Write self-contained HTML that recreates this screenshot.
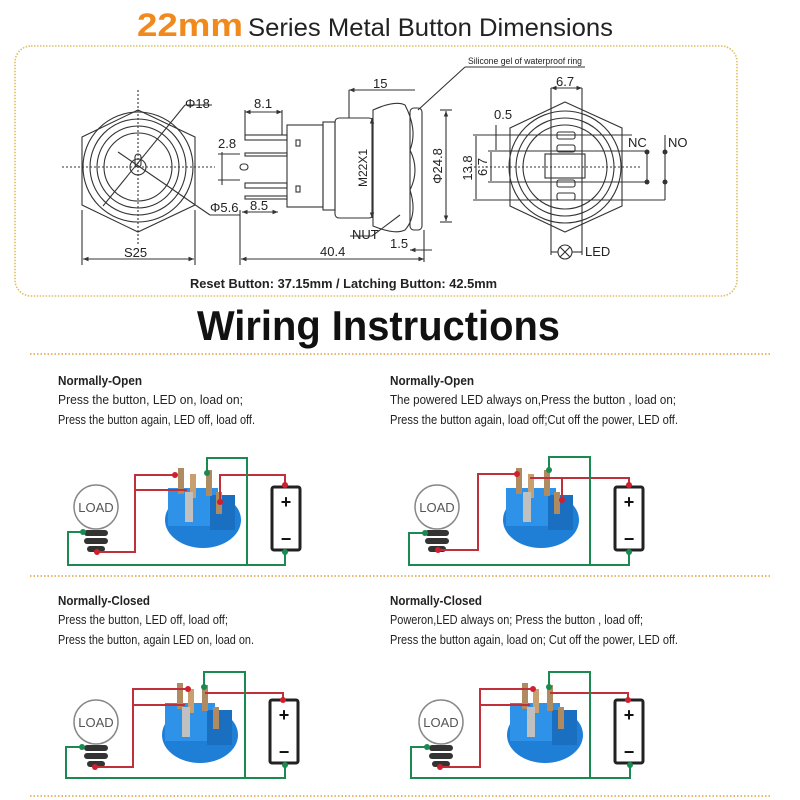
<!DOCTYPE html>
<html><head><meta charset="utf-8"><style>
html,body{margin:0;padding:0;background:#fff;width:800px;height:800px;overflow:hidden}
svg{display:block}
text{font-family:"Liberation Sans",sans-serif}
</style></head><body>
<svg width="800" height="800" viewBox="0 0 800 800" xmlns="http://www.w3.org/2000/svg">
<defs>
<marker id="ar" markerWidth="6" markerHeight="6" refX="5" refY="3" orient="auto-start-reverse"><path d="M0,1 L5,3 L0,5" fill="#333"/></marker>
</defs>
<!-- title -->
<text x="137" y="36" font-size="32" font-weight="bold" fill="#f08a1c" textLength="106" lengthAdjust="spacingAndGlyphs">22mm</text>
<text x="248" y="36" font-size="25" fill="#222" textLength="365" lengthAdjust="spacingAndGlyphs">Series Metal Button Dimensions</text>
<rect x="15" y="46" width="722" height="250" rx="16" fill="none" stroke="#dcc060" stroke-width="1.6" stroke-dasharray="1.5,1.5"/>

<g stroke="#333" fill="none" stroke-width="1.1">
<!-- left hex view -->
<polygon points="138,110 195,137 195,205 138,232 82,205 82,137"/>
<circle cx="138" cy="167" r="55"/><circle cx="138" cy="167" r="48"/><circle cx="138" cy="167" r="41"/><circle cx="138" cy="167" r="34"/>
<circle cx="138" cy="167" r="8"/><rect x="135" y="154" width="6" height="13" rx="3"/>
<line x1="62" y1="167" x2="215" y2="167" stroke-dasharray="2,2"/><line x1="138" y1="90" x2="138" y2="245" stroke-dasharray="2,2"/>
<line x1="103" y1="206" x2="185" y2="105"/><line x1="185" y1="105" x2="212" y2="105"/>
<line x1="118" y1="152" x2="210" y2="215"/><line x1="210" y1="215" x2="240" y2="215"/>
<line x1="82" y1="210" x2="82" y2="265"/><line x1="195" y1="210" x2="195" y2="265"/>
<line x1="83" y1="259" x2="194" y2="259" marker-start="url(#ar)" marker-end="url(#ar)"/>
<!-- side view -->
<line x1="245" y1="112" x2="282" y2="112" marker-start="url(#ar)" marker-end="url(#ar)"/>
<line x1="245" y1="110" x2="245" y2="135"/><line x1="282" y1="110" x2="282" y2="135"/>
<rect x="245" y="135" width="42" height="5"/><rect x="245" y="153" width="42" height="3"/>
<rect x="245" y="183" width="42" height="5"/><rect x="245" y="196" width="42" height="3"/>
<rect x="240" y="164" width="8" height="6" rx="3"/>
<line x1="222" y1="152" x2="222" y2="185"/><line x1="218" y1="154" x2="240" y2="154"/><line x1="218" y1="180" x2="240" y2="180"/>
<rect x="287" y="125" width="36" height="82"/><rect x="323" y="122" width="12" height="88"/>
<rect x="296" y="140" width="4" height="6"/><rect x="296" y="186" width="4" height="6"/>
<rect x="335" y="118" width="38" height="100" rx="4"/>
<path d="M373,110 Q395,100 405,105 Q418,130 410,150 Q420,170 410,190 Q418,215 405,230 Q395,235 373,226 Z"/>
<rect x="410" y="108" width="12" height="122" rx="4"/>
<line x1="349" y1="90" x2="349" y2="118"/><line x1="349" y1="90" x2="415" y2="90" marker-start="url(#ar)"/>
<line x1="440" y1="110" x2="452" y2="110"/><line x1="440" y1="222" x2="452" y2="222"/>
<line x1="446" y1="111" x2="446" y2="221" marker-start="url(#ar)" marker-end="url(#ar)"/>
<line x1="372" y1="118" x2="372" y2="218" marker-start="url(#ar)" marker-end="url(#ar)"/>
<line x1="240" y1="210" x2="240" y2="265"/><line x1="241" y1="259" x2="424" y2="259" marker-start="url(#ar)" marker-end="url(#ar)"/>
<line x1="424" y1="230" x2="424" y2="262"/><line x1="242" y1="212" x2="278" y2="212" marker-start="url(#ar)" marker-end="url(#ar)"/>
<line x1="350" y1="236" x2="372" y2="236"/><line x1="372" y1="236" x2="400" y2="215"/>
<line x1="410" y1="250" x2="432" y2="250" marker-start="url(#ar)"/>
<line x1="418" y1="110" x2="465" y2="67"/><line x1="465" y1="67" x2="585" y2="67"/>
<!-- right view -->
<polygon points="565,102 622,128 622,206 565,232 510,206 510,128"/>
<circle cx="565" cy="167" r="56"/><circle cx="565" cy="167" r="49"/><circle cx="565" cy="167" r="42"/>
<line x1="551" y1="88" x2="551" y2="255"/><line x1="582" y1="88" x2="582" y2="255"/>
<line x1="551" y1="88" x2="582" y2="88" marker-start="url(#ar)" marker-end="url(#ar)"/>
<rect x="557" y="132" width="18" height="7" rx="2"/><rect x="557" y="145" width="18" height="7" rx="2"/>
<rect x="557" y="180" width="18" height="7" rx="2"/><rect x="557" y="193" width="18" height="7" rx="2"/>
<rect x="545" y="154" width="40" height="24"/>
<line x1="473" y1="135" x2="632" y2="135"/><line x1="473" y1="200" x2="665" y2="200"/>
<line x1="488" y1="151" x2="647" y2="151"/><line x1="488" y1="182" x2="647" y2="182"/>
<line x1="476" y1="136" x2="476" y2="199"/><line x1="491" y1="152" x2="491" y2="181"/>
<line x1="496" y1="125" x2="496" y2="150"/>
<line x1="647" y1="151" x2="647" y2="182"/><line x1="665" y1="135" x2="665" y2="200"/>
<line x1="470" y1="167" x2="640" y2="167" stroke-dasharray="2,2"/>
<line x1="551" y1="252" x2="558" y2="252"/><line x1="572" y1="252" x2="582" y2="252"/>
<circle cx="565" cy="252" r="7"/><line x1="560" y1="247" x2="570" y2="257"/><line x1="570" y1="247" x2="560" y2="257"/>
</g>
<g fill="#333">
<circle cx="647" cy="152" r="2.5"/><circle cx="665" cy="152" r="2.5"/><circle cx="647" cy="182" r="2.5"/><circle cx="665" cy="182" r="2.5"/>
</g>
<g font-size="13" fill="#222">
<text x="185" y="108">Φ18</text><text x="210" y="212">Φ5.6</text><text x="124" y="257">S25</text>
<text x="254" y="108">8.1</text><text x="218" y="148">2.8</text><text x="250" y="210">8.5</text>
<text x="373" y="88">15</text><text x="352" y="239">NUT</text><text x="390" y="248">1.5</text>
<text x="320" y="256">40.4</text><text x="556" y="86">6.7</text><text x="494" y="119">0.5</text>
<text x="628" y="147">NC</text><text x="668" y="147">NO</text><text x="585" y="256">LED</text>
<text transform="translate(367,168) rotate(-90)" font-size="12" text-anchor="middle">M22X1</text>
<text transform="translate(442,166) rotate(-90)" text-anchor="middle">Φ24.8</text>
<text transform="translate(472,168) rotate(-90)" text-anchor="middle">13.8</text>
<text transform="translate(487,167) rotate(-90)" text-anchor="middle">6.7</text>
<text x="468" y="64" font-size="9" textLength="114" lengthAdjust="spacingAndGlyphs">Silicone gel of waterproof ring</text>
<text x="190" y="288" font-size="13" font-weight="bold" textLength="307" lengthAdjust="spacingAndGlyphs">Reset Button: 37.15mm / Latching Button: 42.5mm</text>
</g>

<text x="197" y="340" font-size="42" font-weight="bold" fill="#111" textLength="363" lengthAdjust="spacingAndGlyphs">Wiring Instructions</text>
<g stroke="#e0a040" stroke-width="1.5" stroke-dasharray="1.5,2">
<line x1="30" y1="354" x2="770" y2="354"/><line x1="30" y1="576" x2="770" y2="576"/><line x1="30" y1="796" x2="770" y2="796"/>
</g>

<g fill="#222" font-size="12.5">
<text x="58" y="385" font-weight="bold" textLength="84" lengthAdjust="spacingAndGlyphs">Normally-Open</text>
<text x="58" y="404" textLength="185" lengthAdjust="spacingAndGlyphs">Press the button, LED on, load on;</text>
<text x="58" y="424" textLength="197" lengthAdjust="spacingAndGlyphs">Press the button again, LED off, load off.</text>
<text x="390" y="385" font-weight="bold" textLength="84" lengthAdjust="spacingAndGlyphs">Normally-Open</text>
<text x="390" y="404" textLength="286" lengthAdjust="spacingAndGlyphs">The powered LED always on,Press the button , load on;</text>
<text x="390" y="424" textLength="288" lengthAdjust="spacingAndGlyphs">Press the button again, load  off;Cut off the power, LED off.</text>
<text x="58" y="605" font-weight="bold" textLength="92" lengthAdjust="spacingAndGlyphs">Normally-Closed</text>
<text x="58" y="624" textLength="170" lengthAdjust="spacingAndGlyphs">Press the button, LED off, load off;</text>
<text x="58" y="644" textLength="196" lengthAdjust="spacingAndGlyphs">Press the button,  again LED on, load on.</text>
<text x="390" y="605" font-weight="bold" textLength="92" lengthAdjust="spacingAndGlyphs">Normally-Closed</text>
<text x="390" y="624" textLength="253" lengthAdjust="spacingAndGlyphs">Poweron,LED always on; Press the button , load off;</text>
<text x="390" y="644" textLength="288" lengthAdjust="spacingAndGlyphs">Press the button again,  load on; Cut off the power, LED off.</text>
</g>

<!-- component sets -->
<g>
<circle cx="96" cy="507" r="22" fill="#fff" stroke="#888" stroke-width="1.5"/>
<text x="96" y="512" font-size="13" fill="#555" text-anchor="middle">LOAD</text>
<rect x="84" y="530" width="24" height="6" rx="3" fill="#333"/><rect x="84" y="538" width="24" height="6" rx="3" fill="#333"/><rect x="87" y="546" width="18" height="6" rx="3" fill="#333"/>
<ellipse cx="203" cy="520" rx="38" ry="28" fill="#1f7fd6"/>
<rect x="168" y="488" width="50" height="38" fill="#2e92e8"/>
<rect x="210" y="495" width="25" height="35" fill="#1a6fc0"/>
<rect x="178" y="468" width="6" height="26" fill="#b08a60"/><rect x="190" y="474" width="6" height="24" fill="#c8a070"/>
<rect x="185" y="492" width="8" height="30" fill="#c0c0c0"/>
<rect x="206" y="470" width="6" height="26" fill="#b08a60"/><rect x="216" y="492" width="6" height="22" fill="#b08a60"/>
<rect x="272" y="487" width="28" height="63" rx="2" fill="#fff" stroke="#222" stroke-width="3"/>
<text x="286" y="508" font-size="18" font-weight="bold" text-anchor="middle" fill="#111">+</text>
<text x="286" y="545" font-size="18" font-weight="bold" text-anchor="middle" fill="#111">−</text>
</g>
<g transform="translate(341,0)">
<circle cx="96" cy="507" r="22" fill="#fff" stroke="#888" stroke-width="1.5"/>
<text x="96" y="512" font-size="13" fill="#555" text-anchor="middle">LOAD</text>
<rect x="84" y="530" width="24" height="6" rx="3" fill="#333"/><rect x="84" y="538" width="24" height="6" rx="3" fill="#333"/><rect x="87" y="546" width="18" height="6" rx="3" fill="#333"/>
<ellipse cx="200" cy="520" rx="38" ry="28" fill="#1f7fd6"/>
<rect x="165" y="488" width="50" height="38" fill="#2e92e8"/>
<rect x="207" y="495" width="25" height="35" fill="#1a6fc0"/>
<rect x="175" y="468" width="6" height="26" fill="#b08a60"/><rect x="187" y="474" width="6" height="24" fill="#c8a070"/>
<rect x="182" y="492" width="8" height="30" fill="#c0c0c0"/>
<rect x="203" y="470" width="6" height="26" fill="#b08a60"/><rect x="213" y="492" width="6" height="22" fill="#b08a60"/>
<rect x="274" y="487" width="28" height="63" rx="2" fill="#fff" stroke="#222" stroke-width="3"/>
<text x="288" y="508" font-size="18" font-weight="bold" text-anchor="middle" fill="#111">+</text>
<text x="288" y="545" font-size="18" font-weight="bold" text-anchor="middle" fill="#111">−</text>
</g>
<g transform="translate(0,215)">
<circle cx="96" cy="507" r="22" fill="#fff" stroke="#888" stroke-width="1.5"/>
<text x="96" y="512" font-size="13" fill="#555" text-anchor="middle">LOAD</text>
<rect x="84" y="530" width="24" height="6" rx="3" fill="#333"/><rect x="84" y="538" width="24" height="6" rx="3" fill="#333"/><rect x="87" y="546" width="18" height="6" rx="3" fill="#333"/>
<ellipse cx="200" cy="520" rx="38" ry="28" fill="#1f7fd6"/>
<rect x="165" y="488" width="50" height="38" fill="#2e92e8"/>
<rect x="207" y="495" width="25" height="35" fill="#1a6fc0"/>
<rect x="177" y="468" width="6" height="26" fill="#b08a60"/><rect x="188" y="474" width="6" height="24" fill="#c8a070"/>
<rect x="182" y="492" width="8" height="30" fill="#c0c0c0"/>
<rect x="202" y="470" width="6" height="26" fill="#b08a60"/><rect x="213" y="492" width="6" height="22" fill="#b08a60"/>
<rect x="270" y="485" width="28" height="63" rx="2" fill="#fff" stroke="#222" stroke-width="3"/>
<text x="284" y="506" font-size="18" font-weight="bold" text-anchor="middle" fill="#111">+</text>
<text x="284" y="543" font-size="18" font-weight="bold" text-anchor="middle" fill="#111">−</text>
</g>
<g transform="translate(345,215)">
<circle cx="96" cy="507" r="22" fill="#fff" stroke="#888" stroke-width="1.5"/>
<text x="96" y="512" font-size="13" fill="#555" text-anchor="middle">LOAD</text>
<rect x="84" y="530" width="24" height="6" rx="3" fill="#333"/><rect x="84" y="538" width="24" height="6" rx="3" fill="#333"/><rect x="87" y="546" width="18" height="6" rx="3" fill="#333"/>
<ellipse cx="200" cy="520" rx="38" ry="28" fill="#1f7fd6"/>
<rect x="165" y="488" width="50" height="38" fill="#2e92e8"/>
<rect x="207" y="495" width="25" height="35" fill="#1a6fc0"/>
<rect x="177" y="468" width="6" height="26" fill="#b08a60"/><rect x="188" y="474" width="6" height="24" fill="#c8a070"/>
<rect x="182" y="492" width="8" height="30" fill="#c0c0c0"/>
<rect x="202" y="470" width="6" height="26" fill="#b08a60"/><rect x="213" y="492" width="6" height="22" fill="#b08a60"/>
<rect x="270" y="485" width="28" height="63" rx="2" fill="#fff" stroke="#222" stroke-width="3"/>
<text x="284" y="506" font-size="18" font-weight="bold" text-anchor="middle" fill="#111">+</text>
<text x="284" y="543" font-size="18" font-weight="bold" text-anchor="middle" fill="#111">−</text>
</g>

<!-- wires -->
<g fill="none" stroke-width="2">
<polyline stroke="#c0303a" points="97,552 135,552 135,475 175,475"/>
<polyline stroke="#c0303a" points="135,490 187,490"/>
<polyline stroke="#c0303a" points="220,502 220,475 285,475 285,485"/>
<polyline stroke="#1a8a50" points="83,532 68,532 68,565 285,565 285,552"/>
<polyline stroke="#1a8a50" points="247,565 247,458 207,458 207,473"/>
<polyline stroke="#c0303a" points="438,550 478,550 478,474 517,474"/>
<polyline stroke="#c0303a" points="530,478 629,478 629,485"/>
<polyline stroke="#c0303a" points="562,478 562,500"/>
<polyline stroke="#1a8a50" points="425,533 409,533 409,565 629,565 629,552"/>
<polyline stroke="#1a8a50" points="590,565 590,457 549,457 549,470"/>
<polyline stroke="#c0303a" points="95,767 133,767 133,689 188,689"/>
<polyline stroke="#c0303a" points="133,705 185,705"/>
<polyline stroke="#c0303a" points="205,693 283,693 283,700"/>
<polyline stroke="#1a8a50" points="82,747 66,747 66,778 285,778 285,765"/>
<polyline stroke="#1a8a50" points="245,778 245,672 204,672 204,687"/>
<polyline stroke="#c0303a" points="440,767 480,767 480,689 533,689"/>
<polyline stroke="#c0303a" points="480,705 530,705"/>
<polyline stroke="#c0303a" points="550,693 628,693 628,700"/>
<polyline stroke="#1a8a50" points="427,747 411,747 411,778 630,778 630,765"/>
<polyline stroke="#1a8a50" points="590,778 590,672 549,672 549,687"/>
</g>
<g fill="#d02030">
<circle cx="97" cy="552" r="3"/><circle cx="175" cy="475" r="3"/><circle cx="220" cy="502" r="3"/><circle cx="285" cy="485" r="3"/>
<circle cx="438" cy="550" r="3"/><circle cx="517" cy="474" r="3"/><circle cx="562" cy="500" r="3"/><circle cx="629" cy="485" r="3"/>
<circle cx="95" cy="767" r="3"/><circle cx="188" cy="689" r="3"/><circle cx="283" cy="700" r="3"/>
<circle cx="440" cy="767" r="3"/><circle cx="533" cy="689" r="3"/><circle cx="628" cy="700" r="3"/>
</g>
<g fill="#1a8a50">
<circle cx="83" cy="532" r="3"/><circle cx="207" cy="473" r="3"/><circle cx="285" cy="552" r="3"/>
<circle cx="425" cy="533" r="3"/><circle cx="549" cy="470" r="3"/><circle cx="629" cy="552" r="3"/>
<circle cx="82" cy="747" r="3"/><circle cx="204" cy="687" r="3"/><circle cx="285" cy="765" r="3"/>
<circle cx="427" cy="747" r="3"/><circle cx="549" cy="687" r="3"/><circle cx="630" cy="765" r="3"/>
</g>
</svg>
</body></html>
